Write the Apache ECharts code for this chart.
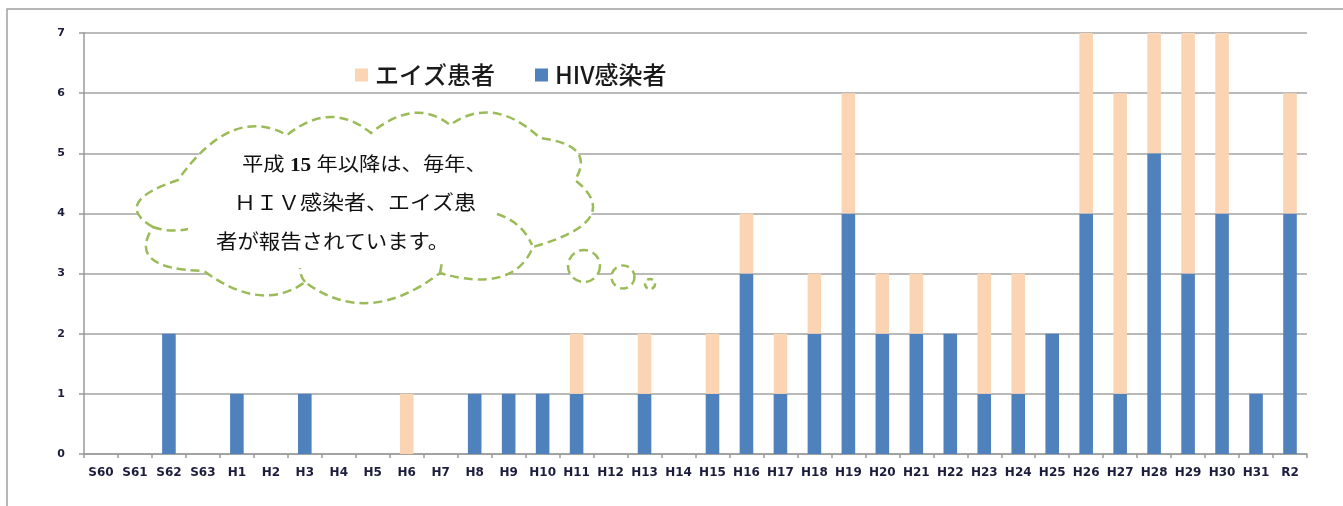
<!DOCTYPE html>
<html><head><meta charset="utf-8">
<script src="https://cdn.jsdelivr.net/npm/echarts@6/dist/echarts.min.js"></script>
<style>html,body{margin:0;padding:0;background:#fff}#c{width:1343px;height:506px}</style>
</head><body><div id="c"></div>
<script>
var categories = ['S60','S61','S62','S63','H1','H2','H3','H4','H5','H6','H7','H8','H9','H10','H11','H12','H13','H14','H15','H16','H17','H18','H19','H20','H21','H22','H23','H24','H25','H26','H27','H28','H29','H30','H31','R2'];
var hivValues  = [0,0,2,0,1,0,1,0,0,0,0,1,1,1,1,0,1,0,1,3,1,2,4,2,2,2,1,1,2,4,1,5,3,4,1,4];
var aidsValues = [0,0,0,0,0,0,0,0,0,1,0,0,0,0,1,0,1,0,1,1,1,1,2,1,1,0,2,2,0,3,5,2,4,3,0,2];
var yTicks = [0,1,2,3,4,5,6,7];
var legendNames = ['エイズ患者','HIV感染者'];
var noteLines = ['平成 {b|15} 年以降は、毎年、','ＨＩＶ感染者、エイズ患','者が報告されています。'];

var GREEN = '#9BBB59';
function ctrl(p0, apex, p2){ return [2*apex[0]-(p0[0]+p2[0])/2, 2*apex[1]-(p0[1]+p2[1])/2]; }
var start = [153,227];
var lobes = [
  [[178,180],[138,203]],
  [[287,135],[232,131]],
  [[371,133],[330,117]],
  [[450,125],[413,113]],
  [[540,138],[494,113]],
  [[575,180],[577,152]],
  [[533,247],[590,217]],
  [[440,273],[500,277]],
  [[305,282],[370,303]],
  [[204,271],[258,295]],
  [[153,227],[152,259]]
];
var d = 'M' + start[0] + ',' + start[1];
var prev = start;
lobes.forEach(function(l){
  var c = ctrl(prev, l[1], l[0]);
  d += ' Q' + c[0] + ',' + c[1] + ' ' + l[0][0] + ',' + l[0][1];
  prev = l[0];
});
d += ' Z';
echarts.graphic.registerShape('cloudShape', echarts.graphic.extendPath(d, {}));

var chart = echarts.init(document.getElementById('c'));
var dashStyle = {stroke: GREEN, lineWidth: 2.5, lineDash: [9,5], fill: null};
function inner(x1,y1,cx,cy,x2,y2){
  return {type:'bezierCurve', z:101, shape:{x1:x1,y1:y1,cpx1:cx,cpy1:cy,x2:x2,y2:y2}, style: dashStyle};
}
var textFont = "'Liberation Serif','Noto Sans CJK JP',serif";
chart.setOption({
  animation: false,
  grid: {left: 84, right: 36, top: 33, bottom: 52},
  legend: {
    data: legendNames,
    left: 350, top: 58,
    itemWidth: 13, itemHeight: 13, itemGap: 40,
    icon: 'rect',
    textStyle: {fontSize: 24, color: '#1a1a1a', fontFamily: "'Noto Sans CJK JP'", fontWeight: 500, padding: [0,0,0,2]}
  },
  xAxis: {
    type: 'category', data: categories,
    axisLine: {lineStyle: {color: '#9a9a9a', width: 1.5}},
    axisTick: {show: true, length: 4, lineStyle: {color: '#9a9a9a', width: 1.5}},
    axisLabel: {interval: 0, margin: 13, fontSize: 12, fontWeight: 'bold', color: '#1c1c3c', fontFamily: "'DejaVu Sans'"}
  },
  yAxis: {
    type: 'value', min: yTicks[0], max: yTicks[yTicks.length-1], interval: 1,
    axisLine: {show: true, lineStyle: {color: '#9a9a9a', width: 1.5}},
    axisTick: {show: true, length: 5, lineStyle: {color: '#9a9a9a', width: 1.5}},
    splitLine: {lineStyle: {color: '#a3a3a3', width: 1.5}},
    axisLabel: {margin: 19, fontSize: 11, fontWeight: 'bold', color: '#1c1c3c', fontFamily: "'DejaVu Sans'"}
  },
  series: [
    {name: legendNames[1], type: 'bar', stack: 's', data: hivValues, barWidth: '40%', itemStyle: {color: '#4F81BD'}},
    {name: legendNames[0], type: 'bar', stack: 's', data: aidsValues, barWidth: '40%', itemStyle: {color: '#FBD4B4'}}
  ],
  graphic: [
    {type: 'rect', z: 0, silent: true, shape: {x: 7, y: 9, width: 1400, height: 600}, style: {fill: null, stroke: '#a0a0a0', lineWidth: 1.5}},
    {type: 'cloudShape', z: 100, style: {fill: '#fff', stroke: GREEN, lineWidth: 2.5, lineDash: [9,5]}},
    inner(153,227,170,233,188,229),
    inner(497,214,522,222,532,245),
    inner(305,282,300,276,300,268),
    inner(440,273,441,268,442,262),
    {type: 'circle', z: 100, shape: {cx: 584, cy: 266, r: 16}, style: {fill: '#fff', stroke: GREEN, lineWidth: 2.5, lineDash: [9,5]}},
    {type: 'circle', z: 100, shape: {cx: 623, cy: 277, r: 11.5}, style: {fill: '#fff', stroke: GREEN, lineWidth: 2.5, lineDash: [8,5]}},
    {type: 'circle', z: 100, shape: {cx: 650, cy: 284, r: 5}, style: {fill: '#fff', stroke: GREEN, lineWidth: 2.5, lineDash: [6,4]}},
    {type: 'text', z: 102, x: 242, y: 166, scaleX: 1.12, style: {text: noteLines[0], font: "19px " + textFont, fill: '#111', verticalAlign: 'middle',
      rich: {b: {fontSize: 19, fontWeight: 'bold', fontFamily: textFont, fill: '#111'}}}},
    {type: 'text', z: 102, x: 234, y: 205, scaleX: 1.1, style: {text: noteLines[1], font: "20px " + textFont, fill: '#111', verticalAlign: 'middle'}},
    {type: 'text', z: 102, x: 216, y: 244, scaleX: 1.07, style: {text: noteLines[2], font: "20px " + textFont, fill: '#111', verticalAlign: 'middle'}}
  ]
});
</script></body></html>
